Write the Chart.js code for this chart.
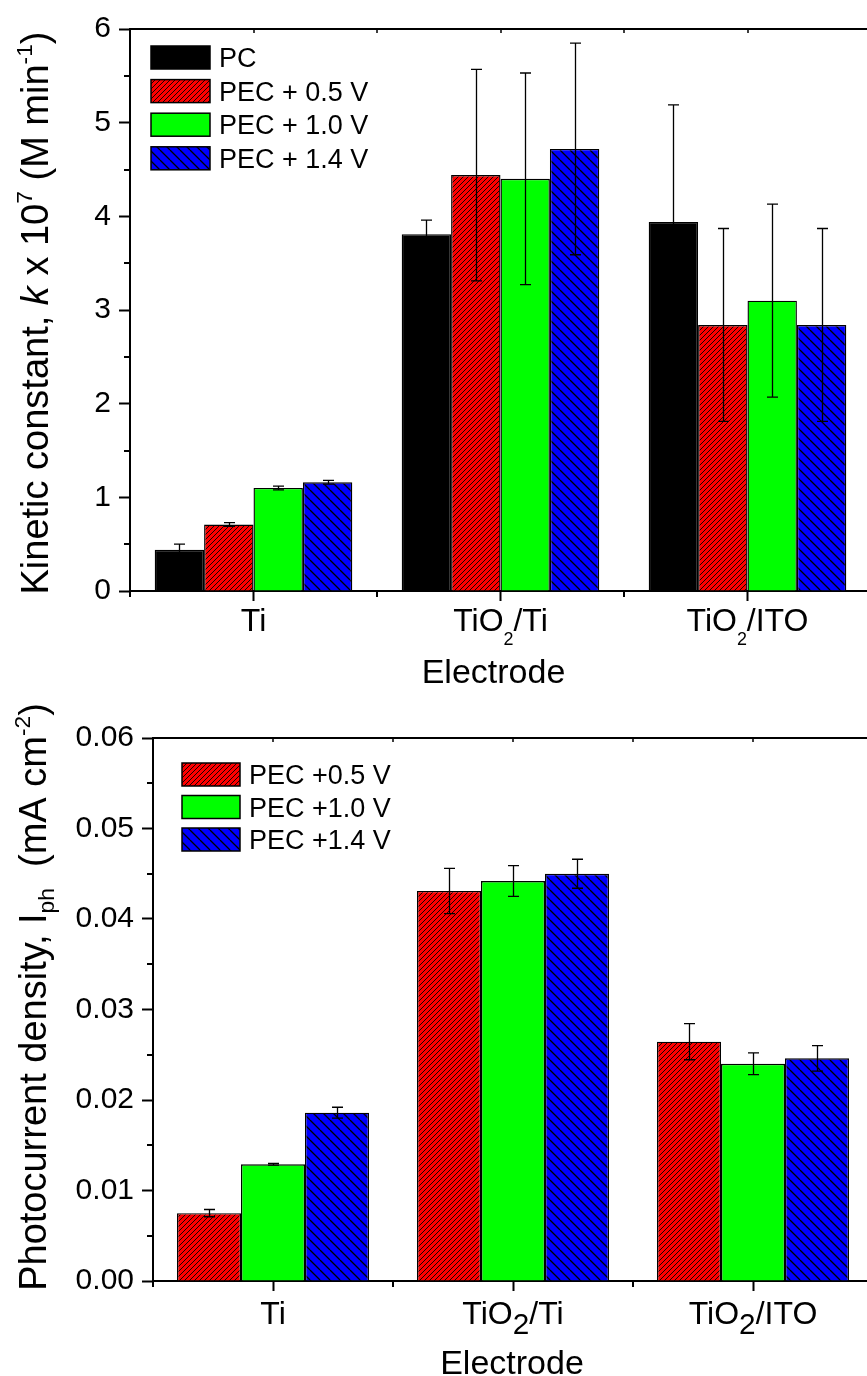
<!DOCTYPE html>
<html><head><meta charset="utf-8">
<script src="https://cdn.jsdelivr.net/npm/chart.js@4.4.0/dist/chart.umd.min.js"></script>
<style>
html,body{margin:0;padding:0;background:#fff;overflow:hidden;width:867px;height:1376px;}
#c1{position:absolute;left:0;top:0;}
#c2{position:absolute;left:0;top:690px;}
</style></head><body>
<canvas id="c1" width="880" height="690"></canvas>
<canvas id="c2" width="880" height="686"></canvas>
<script>
// ---------- data ----------
const categories = ['Ti', 'TiO2/Ti', 'TiO2/ITO'];

// Top chart: kinetic constant k x 10^7 (M min^-1)
const kSeriesLabels = ['PC', 'PEC + 0.5 V', 'PEC + 1.0 V', 'PEC + 1.4 V'];
const kPC      = [0.44, 3.81, 3.94];
const kPC_err  = [0.06, 0.15, 1.25];
const kP05     = [0.71, 4.44, 2.84];
const kP05_err = [0.02, 1.13, 1.03];
const kP10     = [1.10, 4.40, 3.10];
const kP10_err = [0.02, 1.13, 1.03];
const kP14     = [1.16, 4.72, 2.84];
const kP14_err = [0.02, 1.13, 1.03];
const kTicks   = [0, 1, 2, 3, 4, 5, 6];

// Bottom chart: photocurrent density (mA cm^-2)
const iSeriesLabels = ['PEC +0.5 V', 'PEC +1.0 V', 'PEC +1.4 V'];
const iP05     = [0.0075, 0.0431, 0.02645];
const iP05_err = [0.0004, 0.0025, 0.0020];
const iP10     = [0.0129, 0.0442, 0.0240];
const iP10_err = [0.0001, 0.0017, 0.0012];
const iP14     = [0.0186, 0.0450, 0.0246];
const iP14_err = [0.0006, 0.0016, 0.0014];
const iTicks   = [0, 0.01, 0.02, 0.03, 0.04, 0.05, 0.06];

// ---------- styling helpers ----------
const FONT = '"Liberation Sans", Arial, Helvetica, sans-serif';

function hatchTile(color, s, dir, lw) {
  const c = document.createElement('canvas');
  c.width = s; c.height = s;
  const x = c.getContext('2d');
  x.fillStyle = color; x.fillRect(0, 0, s, s);
  x.strokeStyle = '#000'; x.lineWidth = lw;
  x.beginPath();
  for (let k = -1; k <= 1; k++) {
    if (dir === '/') { x.moveTo(k * s, s); x.lineTo(k * s + s, 0); }
    else { x.moveTo(k * s, 0); x.lineTo(k * s + s, s); }
  }
  x.stroke();
  return c;
}
const ctx1 = document.getElementById('c1').getContext('2d');
const ctx2 = document.getElementById('c2').getContext('2d');
function mkPatterns(ctx) {
  return {
    red: ctx.createPattern(hatchTile('#ff0000', 5, '/', 0.9), 'repeat'),
    blue: ctx.createPattern(hatchTile('#0000ff', 10, '\\', 1.3), 'repeat')
  };
}
const p1 = mkPatterns(ctx1);
const p2 = mkPatterns(ctx2);

function font(size, italic) { return (italic ? 'italic ' : '') + size + 'px ' + FONT; }

// rich text: segments {t, s (scale), dy (em shift, +down), it}
function drawRich(ctx, segs, x, y, base, rot) {
  ctx.save();
  ctx.translate(x, y);
  if (rot) ctx.rotate(rot);
  ctx.fillStyle = '#000';
  ctx.textBaseline = 'alphabetic';
  ctx.textAlign = 'left';
  let total = 0;
  const ws = segs.map(sg => {
    ctx.font = font(base * (sg.s || 1), sg.it);
    const w = ctx.measureText(sg.t).width; total += w; return w;
  });
  let cx = -total / 2;
  segs.forEach((sg, i) => {
    ctx.font = font(base * (sg.s || 1), sg.it);
    ctx.fillText(sg.t, cx, (sg.dy || 0) * base);
    cx += ws[i];
  });
  ctx.restore();
}

function catSegs(label, subScale, subDy) {
  const segs = [];
  label.split(/(\d)/).forEach(p => {
    if (!p) return;
    if (/^\d$/.test(p)) segs.push({ t: p, s: subScale, dy: subDy });
    else segs.push({ t: p });
  });
  return segs;
}

function decorPlugin(cfg) {
  return {
    id: 'decor',
    afterDatasetsDraw(chart) {
      const ctx = chart.ctx;
      const ys = chart.scales.y;
      ctx.save();
      ctx.strokeStyle = '#000';
      ctx.lineWidth = 1.3;
      chart.data.datasets.forEach((ds, i) => {
        const meta = chart.getDatasetMeta(i);
        meta.data.forEach((bar, j) => {
          const v = ds.data[j], e = ds.errors[j];
          const x = Math.round(bar.x) + 0.5;
          const yt = ys.getPixelForValue(v + e);
          const yb = ys.getPixelForValue(v - e);
          ctx.beginPath();
          ctx.moveTo(x, yt); ctx.lineTo(x, yb);
          ctx.moveTo(x - cfg.cap, yt); ctx.lineTo(x + cfg.cap, yt);
          ctx.moveTo(x - cfg.cap, yb); ctx.lineTo(x + cfg.cap, yb);
          ctx.stroke();
        });
      });
      ctx.restore();
    },
    afterDraw(chart) {
      const ctx = chart.ctx;
      const ca = chart.chartArea;
      const xs = chart.scales.x, ys = chart.scales.y;
      ctx.save();
      ctx.strokeStyle = '#000';
      ctx.lineWidth = 2;
      // minor y ticks
      ctx.beginPath();
      for (let v = cfg.minorStep; v < ys.max; v += 2 * cfg.minorStep) {
        const y = Math.round(ys.getPixelForValue(v));
        ctx.moveTo(ca.left - 6, y); ctx.lineTo(ca.left, y);
      }
      // x boundary ticks
      const n = chart.data.labels.length;
      const c0 = xs.getPixelForTick(0), c1 = xs.getPixelForTick(1);
      const sp = c1 - c0;
      for (let i = 0; i <= n; i++) {
        const x = Math.round(c0 - sp / 2 + i * sp);
        ctx.moveTo(x, ca.bottom); ctx.lineTo(x, ca.bottom + 6);
      }
      // top and right axis lines
      ctx.moveTo(ca.left, ca.top); ctx.lineTo(chart.width, ca.top);
      ctx.moveTo(ca.right, ca.top); ctx.lineTo(ca.right, ca.bottom);
      ctx.stroke();
      ctx.lineWidth = 1.5;
      ctx.beginPath();
      for (let i = 0; i <= 2 * n; i++) {
        const x = Math.round(c0 - sp / 2 + i * sp / 2);
        ctx.moveTo(x, ca.top); ctx.lineTo(x, ca.top + 4);
      }
      ctx.stroke();

      // legend
      chart.data.datasets.forEach((ds, i) => {
        const top = cfg.legY + i * cfg.legDy;
        ctx.fillStyle = ds.backgroundColor;
        ctx.fillRect(cfg.legX, top, cfg.legW, 23);
        ctx.strokeStyle = '#000';
        ctx.lineWidth = 1.5;
        ctx.strokeRect(cfg.legX, top, cfg.legW, 23);
        ctx.fillStyle = '#000';
        ctx.font = font(27);
        ctx.textAlign = 'left';
        ctx.textBaseline = 'alphabetic';
        ctx.fillText(ds.label, cfg.legX + cfg.legW + 9, top + 21);
      });

      // x category labels
      chart.data.labels.forEach((lab, i) => {
        drawRich(ctx, catSegs(lab, cfg.subS, cfg.subDy), xs.getPixelForTick(i), ca.bottom + cfg.labOff, 32);
      });
      // x title
      drawRich(ctx, [{ t: 'Electrode' }], (ca.left + ca.right) / 2 + cfg.xtShift, cfg.xtY, 34);
      // y title
      drawRich(ctx, cfg.yTitle, cfg.ytX, cfg.ytY, 38, -Math.PI / 2);
      ctx.restore();
    }
  };
}

function axisOpts(min, max, step, yWidth, xHeight, fmt) {
  return {
    x: {
      grid: { display: true, drawOnChartArea: false, offset: false, tickLength: 10, tickWidth: 2, tickColor: '#000' },
      border: { display: true, color: '#000', width: 2 },
      ticks: { display: false },
      afterFit(s) { s.height = xHeight; }
    },
    y: {
      min: min, max: max,
      ticks: { stepSize: step, color: '#000', font: { family: FONT, size: 30 }, padding: 8, callback: fmt },
      grid: { drawOnChartArea: false, tickLength: 11, tickWidth: 2, tickColor: '#000' },
      border: { display: true, color: '#000', width: 2 },
      afterFit(s) { s.width = yWidth; }
    }
  };
}

// ---------- top chart ----------
new Chart(ctx1, {
  type: 'bar',
  data: {
    labels: categories,
    datasets: [
      { label: kSeriesLabels[0], data: kPC,  errors: kPC_err,  backgroundColor: '#000000', borderColor: '#000', borderWidth: 1.4 },
      { label: kSeriesLabels[1], data: kP05, errors: kP05_err, backgroundColor: p1.red,   borderColor: '#000', borderWidth: 1.4 },
      { label: kSeriesLabels[2], data: kP10, errors: kP10_err, backgroundColor: '#00ff00', borderColor: '#000', borderWidth: 1.4 },
      { label: kSeriesLabels[3], data: kP14, errors: kP14_err, backgroundColor: p1.blue,  borderColor: '#000', borderWidth: 1.4 }
    ]
  },
  options: {
    responsive: false, animation: false,
    layout: { padding: { left: 0, top: 29, right: 9, bottom: 0 } },
    datasets: { bar: { categoryPercentage: 0.8, barPercentage: 1.0 } },
    plugins: { legend: { display: false }, tooltip: { enabled: false } },
    scales: axisOpts(kTicks[0], kTicks[kTicks.length - 1], kTicks[1] - kTicks[0], 130, 99, v => String(v))
  },
  plugins: [decorPlugin({
    cap: 5.5, minorStep: 0.5,
    legX: 151, legY: 46, legDy: 33.6, legW: 59,
    subS: 0.56, subDy: 0.43, labOff: 40,
    xtShift: -7, xtY: 683,
    ytX: 48, ytY: 313,
    yTitle: [{ t: 'Kinetic constant, ' }, { t: 'k', it: true }, { t: ' x 10' }, { t: '7', s: 0.6, dy: -0.42 }, { t: ' (M min' }, { t: '-1', s: 0.6, dy: -0.42 }, { t: ')' }]
  })]
});

// ---------- bottom chart ----------
new Chart(ctx2, {
  type: 'bar',
  data: {
    labels: categories,
    datasets: [
      { label: iSeriesLabels[0], data: iP05, errors: iP05_err, backgroundColor: p2.red,   borderColor: '#000', borderWidth: 1.4 },
      { label: iSeriesLabels[1], data: iP10, errors: iP10_err, backgroundColor: '#00ff00', borderColor: '#000', borderWidth: 1.4 },
      { label: iSeriesLabels[2], data: iP14, errors: iP14_err, backgroundColor: p2.blue,  borderColor: '#000', borderWidth: 1.4 }
    ]
  },
  options: {
    responsive: false, animation: false,
    layout: { padding: { left: 0, top: 48, right: 7, bottom: 0 } },
    datasets: { bar: { categoryPercentage: 0.8, barPercentage: 1.0 } },
    plugins: { legend: { display: false }, tooltip: { enabled: false } },
    scales: axisOpts(iTicks[0], iTicks[iTicks.length - 1], 0.01, 153, 95, v => Number(v).toFixed(2))
  },
  plugins: [decorPlugin({
    cap: 5.5, minorStep: 0.005,
    legX: 182, legY: 73, legDy: 32.5, legW: 58,
    subS: 0.93, subDy: 0.3, labOff: 43,
    xtShift: -1, xtY: 684,
    ytX: 46, ytY: 307,
    yTitle: [{ t: 'Photocurrent density, I' }, { t: 'ph', s: 0.6, dy: 0.2 }, { t: '  (mA cm' }, { t: '-2', s: 0.6, dy: -0.42 }, { t: ')' }]
  })]
});
</script>
</body></html>
